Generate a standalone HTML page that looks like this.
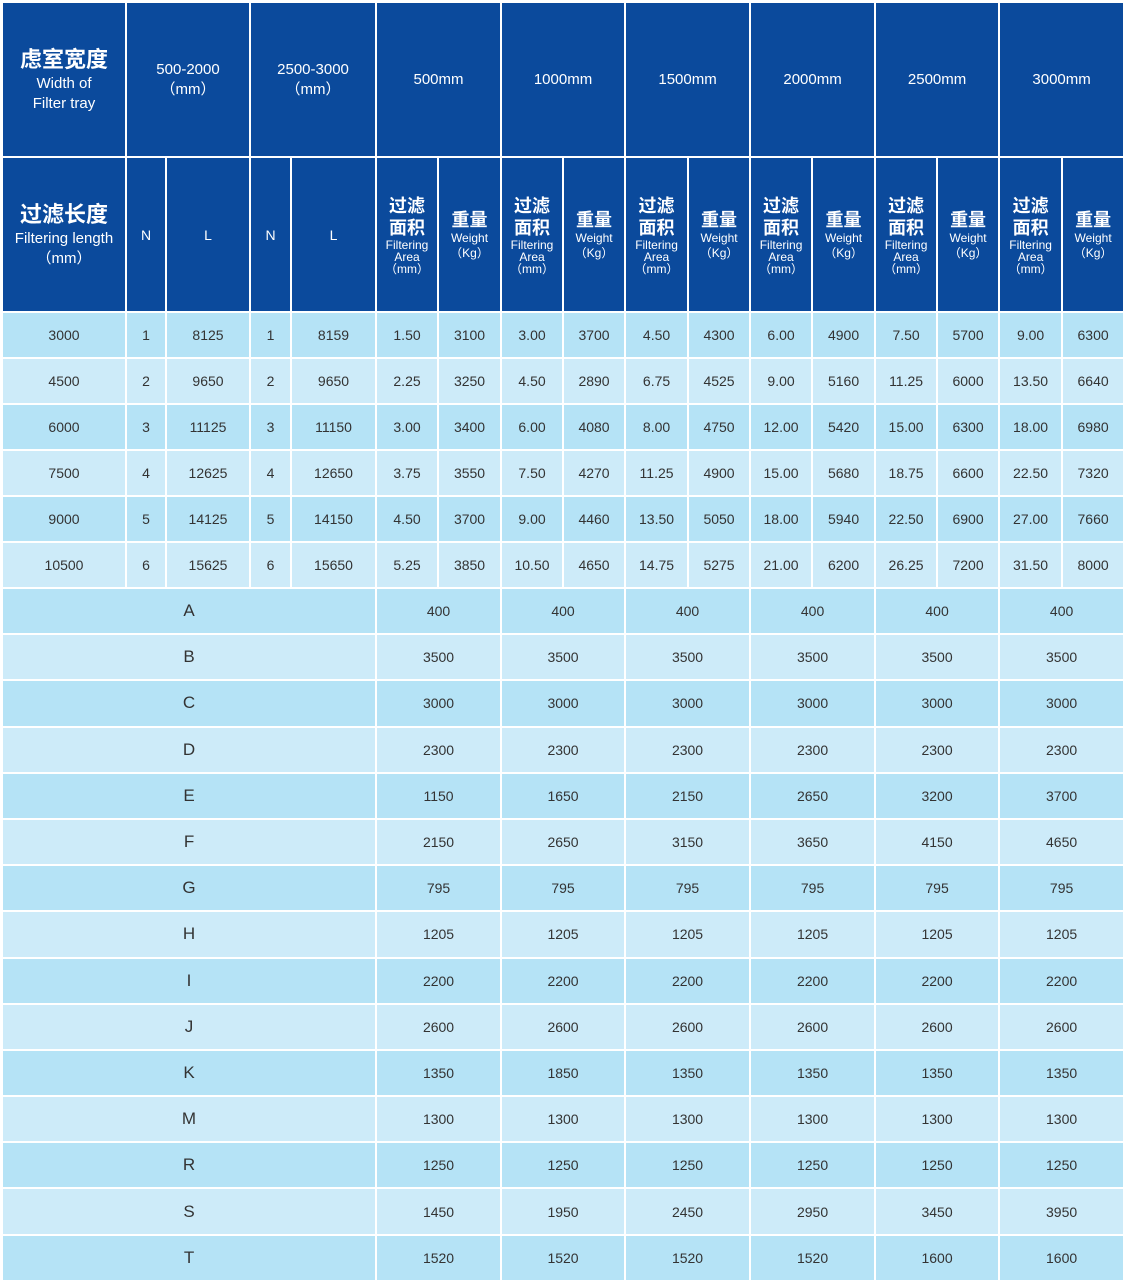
<!DOCTYPE html>
<html><head><meta charset="utf-8"><style>
html,body{margin:0;padding:0;background:#fff;width:1124px;height:1283px;overflow:hidden}
table{position:absolute;left:1px;top:1px;width:1122px;border-collapse:separate;border-spacing:2px;table-layout:fixed;font-family:"Liberation Sans","Noto Sans CJK SC",sans-serif;}
td{padding:0;text-align:center;vertical-align:middle;font-size:14px;color:#333;overflow:hidden}
.h td{background:#0b4a9c;color:#fff;height:153px}
.h td.t{font-size:15px;line-height:20px}
.cn{font-weight:bold;font-size:22px;line-height:28px}
.cn2{font-weight:bold;font-size:18px;line-height:22px}
.sm{font-size:12px;line-height:12px}
tr.a td{background:#b5e3f6}
tr.b td{background:#cdebf9}
tr.d td{height:44px}
tr.l td{height:44.2px;font-size:14px}
tr.l td.k{font-size:17px}
</style></head><body>
<table>
<colgroup><col style="width:122px"><col style="width:38px"><col style="width:82px"><col style="width:39px"><col style="width:83px"><col style="width:60px"><col style="width:61px"><col style="width:60px"><col style="width:60px"><col style="width:61px"><col style="width:60px"><col style="width:60px"><col style="width:61px"><col style="width:60px"><col style="width:60px"><col style="width:61px"><col style="width:60px"></colgroup>
<tr class="h"><td class="t"><div class="cn">虑室宽度</div>Width of<br>Filter tray</td><td colspan="2" class="t">500-2000<br>（mm）</td><td colspan="2" class="t">2500-3000<br>（mm）</td><td colspan="2" class="t">500mm</td><td colspan="2" class="t">1000mm</td><td colspan="2" class="t">1500mm</td><td colspan="2" class="t">2000mm</td><td colspan="2" class="t">2500mm</td><td colspan="2" class="t">3000mm</td></tr>
<tr class="h"><td class="t"><div class="cn">过滤长度</div>Filtering length<br>（mm）</td><td>N</td><td>L</td><td>N</td><td>L</td>
<td><div class="cn2">过滤<br>面积</div><div class="sm">Filtering<br>Area<br>（mm）</div></td><td><div class="cn2">重量</div><div class="sm" style="line-height:15px">Weight<br>（Kg）</div></td>
<td><div class="cn2">过滤<br>面积</div><div class="sm">Filtering<br>Area<br>（mm）</div></td><td><div class="cn2">重量</div><div class="sm" style="line-height:15px">Weight<br>（Kg）</div></td>
<td><div class="cn2">过滤<br>面积</div><div class="sm">Filtering<br>Area<br>（mm）</div></td><td><div class="cn2">重量</div><div class="sm" style="line-height:15px">Weight<br>（Kg）</div></td>
<td><div class="cn2">过滤<br>面积</div><div class="sm">Filtering<br>Area<br>（mm）</div></td><td><div class="cn2">重量</div><div class="sm" style="line-height:15px">Weight<br>（Kg）</div></td>
<td><div class="cn2">过滤<br>面积</div><div class="sm">Filtering<br>Area<br>（mm）</div></td><td><div class="cn2">重量</div><div class="sm" style="line-height:15px">Weight<br>（Kg）</div></td>
<td><div class="cn2">过滤<br>面积</div><div class="sm">Filtering<br>Area<br>（mm）</div></td><td><div class="cn2">重量</div><div class="sm" style="line-height:15px">Weight<br>（Kg）</div></td></tr>
<tr class="d a"><td>3000</td><td>1</td><td>8125</td><td>1</td><td>8159</td><td>1.50</td><td>3100</td><td>3.00</td><td>3700</td><td>4.50</td><td>4300</td><td>6.00</td><td>4900</td><td>7.50</td><td>5700</td><td>9.00</td><td>6300</td></tr>
<tr class="d b"><td>4500</td><td>2</td><td>9650</td><td>2</td><td>9650</td><td>2.25</td><td>3250</td><td>4.50</td><td>2890</td><td>6.75</td><td>4525</td><td>9.00</td><td>5160</td><td>11.25</td><td>6000</td><td>13.50</td><td>6640</td></tr>
<tr class="d a"><td>6000</td><td>3</td><td>11125</td><td>3</td><td>11150</td><td>3.00</td><td>3400</td><td>6.00</td><td>4080</td><td>8.00</td><td>4750</td><td>12.00</td><td>5420</td><td>15.00</td><td>6300</td><td>18.00</td><td>6980</td></tr>
<tr class="d b"><td>7500</td><td>4</td><td>12625</td><td>4</td><td>12650</td><td>3.75</td><td>3550</td><td>7.50</td><td>4270</td><td>11.25</td><td>4900</td><td>15.00</td><td>5680</td><td>18.75</td><td>6600</td><td>22.50</td><td>7320</td></tr>
<tr class="d a"><td>9000</td><td>5</td><td>14125</td><td>5</td><td>14150</td><td>4.50</td><td>3700</td><td>9.00</td><td>4460</td><td>13.50</td><td>5050</td><td>18.00</td><td>5940</td><td>22.50</td><td>6900</td><td>27.00</td><td>7660</td></tr>
<tr class="d b"><td>10500</td><td>6</td><td>15625</td><td>6</td><td>15650</td><td>5.25</td><td>3850</td><td>10.50</td><td>4650</td><td>14.75</td><td>5275</td><td>21.00</td><td>6200</td><td>26.25</td><td>7200</td><td>31.50</td><td>8000</td></tr>
<tr class="l a"><td colspan="5" class="k">A</td><td colspan="2">400</td><td colspan="2">400</td><td colspan="2">400</td><td colspan="2">400</td><td colspan="2">400</td><td colspan="2">400</td></tr>
<tr class="l b"><td colspan="5" class="k">B</td><td colspan="2">3500</td><td colspan="2">3500</td><td colspan="2">3500</td><td colspan="2">3500</td><td colspan="2">3500</td><td colspan="2">3500</td></tr>
<tr class="l a"><td colspan="5" class="k">C</td><td colspan="2">3000</td><td colspan="2">3000</td><td colspan="2">3000</td><td colspan="2">3000</td><td colspan="2">3000</td><td colspan="2">3000</td></tr>
<tr class="l b"><td colspan="5" class="k">D</td><td colspan="2">2300</td><td colspan="2">2300</td><td colspan="2">2300</td><td colspan="2">2300</td><td colspan="2">2300</td><td colspan="2">2300</td></tr>
<tr class="l a"><td colspan="5" class="k">E</td><td colspan="2">1150</td><td colspan="2">1650</td><td colspan="2">2150</td><td colspan="2">2650</td><td colspan="2">3200</td><td colspan="2">3700</td></tr>
<tr class="l b"><td colspan="5" class="k">F</td><td colspan="2">2150</td><td colspan="2">2650</td><td colspan="2">3150</td><td colspan="2">3650</td><td colspan="2">4150</td><td colspan="2">4650</td></tr>
<tr class="l a"><td colspan="5" class="k">G</td><td colspan="2">795</td><td colspan="2">795</td><td colspan="2">795</td><td colspan="2">795</td><td colspan="2">795</td><td colspan="2">795</td></tr>
<tr class="l b"><td colspan="5" class="k">H</td><td colspan="2">1205</td><td colspan="2">1205</td><td colspan="2">1205</td><td colspan="2">1205</td><td colspan="2">1205</td><td colspan="2">1205</td></tr>
<tr class="l a"><td colspan="5" class="k">I</td><td colspan="2">2200</td><td colspan="2">2200</td><td colspan="2">2200</td><td colspan="2">2200</td><td colspan="2">2200</td><td colspan="2">2200</td></tr>
<tr class="l b"><td colspan="5" class="k">J</td><td colspan="2">2600</td><td colspan="2">2600</td><td colspan="2">2600</td><td colspan="2">2600</td><td colspan="2">2600</td><td colspan="2">2600</td></tr>
<tr class="l a"><td colspan="5" class="k">K</td><td colspan="2">1350</td><td colspan="2">1850</td><td colspan="2">1350</td><td colspan="2">1350</td><td colspan="2">1350</td><td colspan="2">1350</td></tr>
<tr class="l b"><td colspan="5" class="k">M</td><td colspan="2">1300</td><td colspan="2">1300</td><td colspan="2">1300</td><td colspan="2">1300</td><td colspan="2">1300</td><td colspan="2">1300</td></tr>
<tr class="l a"><td colspan="5" class="k">R</td><td colspan="2">1250</td><td colspan="2">1250</td><td colspan="2">1250</td><td colspan="2">1250</td><td colspan="2">1250</td><td colspan="2">1250</td></tr>
<tr class="l b"><td colspan="5" class="k">S</td><td colspan="2">1450</td><td colspan="2">1950</td><td colspan="2">2450</td><td colspan="2">2950</td><td colspan="2">3450</td><td colspan="2">3950</td></tr>
<tr class="l a"><td colspan="5" class="k">T</td><td colspan="2">1520</td><td colspan="2">1520</td><td colspan="2">1520</td><td colspan="2">1520</td><td colspan="2">1600</td><td colspan="2">1600</td></tr>
</table>
</body></html>
